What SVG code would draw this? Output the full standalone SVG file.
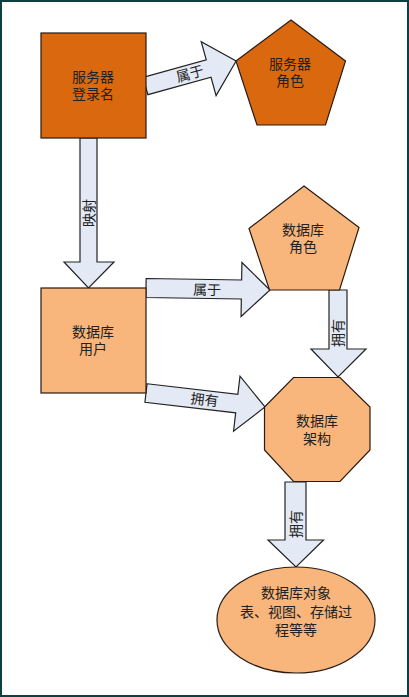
<svg xmlns="http://www.w3.org/2000/svg" width="409" height="697" viewBox="0 0 409 697">
<style>
text{font-family:"Liberation Sans","Noto Sans CJK SC",sans-serif;font-size:14px;fill:#222;text-anchor:middle;dominant-baseline:central}
.dark{fill:#d9680f;stroke:#2a1a10;stroke-width:1.2}
.light{fill:#f8b57c;stroke:#2a1a10;stroke-width:1.2}
.arr{fill:#e4eaf5;stroke:#222;stroke-width:1.2;stroke-linejoin:miter}
</style>
<rect x="0" y="0" width="409" height="697" fill="#ffffff"/>
<rect x="1" y="1" width="407" height="695" fill="none" stroke="#0d4040" stroke-width="2"/>
<g id="connectors">
  <g transform="translate(145.5,86) rotate(-15.4)">
    <path class="arr" d="M0,-9 H65.5 V-28 L94,0 L65.5,28 V9 H0 Z"/>
    <text x="46" y="0">属于</text>
  </g>
  <g>
    <path class="arr" d="M80,138 H97 V262 H114 L88.5,288 L64,262 H80 Z"/>
    <text transform="translate(89,213) rotate(-90)">映射</text>
  </g>
  <g transform="translate(146,288) rotate(0.9)">
    <path class="arr" d="M0,-9.5 H95.5 V-27 L124,0 L95.5,27 V9.5 H0 Z"/>
    <text x="61" y="1">属于</text>
  </g>
  <g>
    <path class="arr" d="M329,290 H347 V349 H366 L338,377 L311,349 H329 Z"/>
    <text transform="translate(338,333) rotate(-90)">拥有</text>
  </g>
  <g transform="translate(146,393) rotate(6.7)">
    <path class="arr" d="M0,-9.3 H91.4 V-27.7 L119.8,0 L91.4,27.7 V9.3 H0 Z"/>
    <text x="59" y="0">拥有</text>
  </g>
  <g>
    <path class="arr" d="M285,482 H306 V540 H323.5 L296,567 L268,540 H285 Z"/>
    <text transform="translate(295.5,524) rotate(-90)">拥有</text>
  </g>
</g>
<g id="server-login">
  <rect class="dark" x="41" y="33" width="105" height="105"/>
  <text x="93" y="77">服务器</text>
  <text x="93" y="94">登录名</text>
</g>
<g id="server-role">
  <polygon class="dark" points="291,20 345.5,61 325.5,125 257,125 236,61"/>
  <text x="290" y="64">服务器</text>
  <text x="290" y="81">角色</text>
</g>
<g id="db-user">
  <rect class="light" x="41" y="288" width="105" height="105"/>
  <text x="93" y="332">数据库</text>
  <text x="93" y="349">用户</text>
</g>
<g id="db-role">
  <polygon class="light" points="304,186 359,227.5 339.5,290 269.5,290 249,228.5"/>
  <text x="303" y="230">数据库</text>
  <text x="303" y="247">角色</text>
</g>
<g id="db-schema">
  <polygon class="light" points="293.5,377.5 340,377.5 370,407 370,450 340,481.5 293.5,481.5 264.5,450 264.5,407"/>
  <text x="317" y="421">数据库</text>
  <text x="317" y="439">架构</text>
</g>
<g id="db-objects">
  <ellipse class="light" cx="296" cy="620" rx="79" ry="53"/>
  <text x="296" y="593">数据库对象</text>
  <text x="296" y="611.5">表、视图、存储过</text>
  <text x="296" y="629.5">程等等</text>
</g>
</svg>
